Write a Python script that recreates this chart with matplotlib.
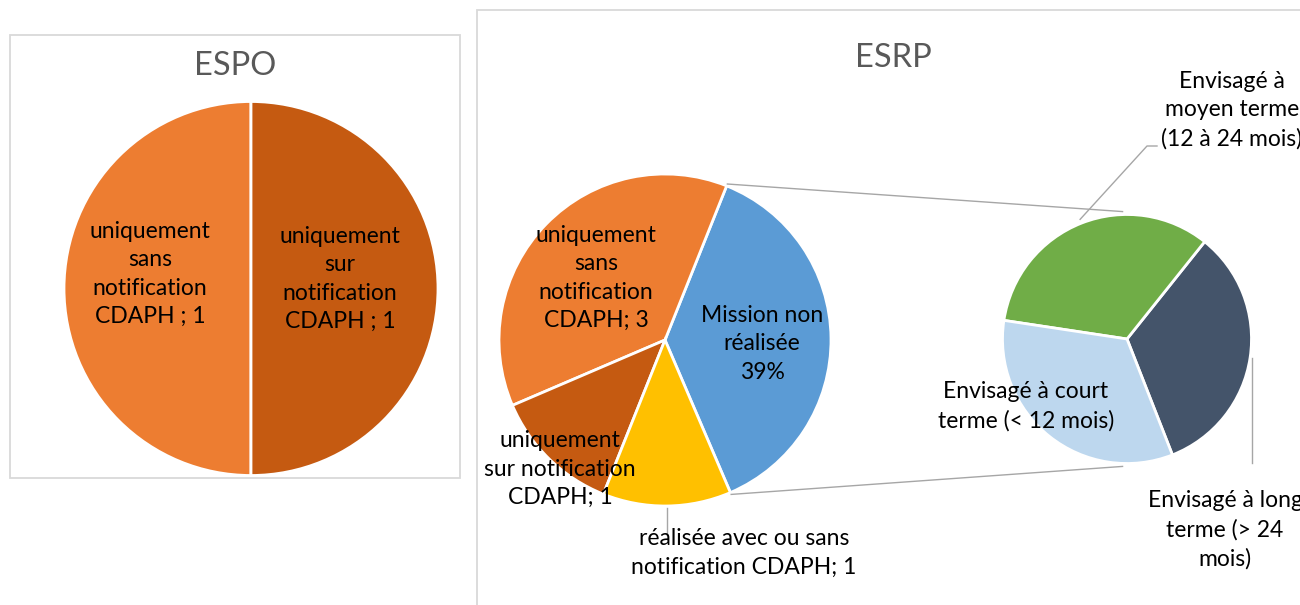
"""Two pie charts: ESPO and ESRP (pie of pie)"""

import numpy as np
import matplotlib.pyplot as plt
from matplotlib.patches import Rectangle

plt.rcParams["font.family"] = ["Lato", "DejaVu Sans"]

# data
espo_labels = ["uniquement\nsans\nnotification\nCDAPH ; 1",
               "uniquement\nsur\nnotification\nCDAPH ; 1"]
espo_values = [1, 1]

# sub-pie: split of "Mission non réalisée"
sub_labels = ["Envisagé à long\nterme (> 24\nmois)",
              "Envisagé à\nmoyen terme\n(12 à 24 mois)",
              "Envisagé à court\nterme (< 12 mois)"]
sub_values = [1, 1, 1]

esrp_labels = ["Mission non\nréalisée\n39%",
               "uniquement\nsans\nnotification\nCDAPH; 3",
               "uniquement\nsur notification\nCDAPH; 1",
               "réalisée avec ou sans\nnotification CDAPH; 1"]
esrp_values = [sum(sub_values), 3, 1, 1]

ORANGE, DARK_ORANGE, YELLOW, BLUE = "#ED7D31", "#C55A11", "#FFC000", "#5B9BD5"
GREEN, SLATE, LIGHT_BLUE = "#70AD47", "#44546A", "#BDD7EE"
GRID = "#D9D9D9"
LINE = "#A6A6A6"

W, H = 1300, 605


def Y(y):
    return H - y


fig = plt.figure(figsize=(W / 100, H / 100), dpi=100)
ax = fig.add_axes([0, 0, 1, 1])

wedge_kw = dict(edgecolor="white", linewidth=2.0)
txt_kw = dict(ha="center", va="center", fontsize=16.5, color="black", linespacing=1.44)

# ESPO panel
ax.add_patch(Rectangle((10, Y(478)), 450, 443, fill=False, edgecolor=GRID, linewidth=1.3))
ax.text(235, Y(66), "ESPO", ha="center", va="center", fontsize=23.5, color="#595959")
ax.pie(espo_values, colors=[ORANGE, DARK_ORANGE], startangle=90, counterclock=True,
       center=(251, Y(288.5)), radius=187, wedgeprops=wedge_kw)
ax.text(150, Y(274), espo_labels[0], **txt_kw)
ax.text(340, Y(279), espo_labels[1], **txt_kw)

# ESRP panel
ax.add_patch(Rectangle((477, Y(700)), 900, 690, fill=False, edgecolor=GRID, linewidth=1.3))
ax.text(893, Y(58), "ESRP", ha="center", va="center", fontsize=23.5, color="#595959")

main_c, main_r = (665, Y(340)), 166
main_w, _ = ax.pie(esrp_values, colors=[BLUE, ORANGE, DARK_ORANGE, YELLOW],
                   startangle=-66.8, counterclock=True, center=main_c, radius=main_r,
                   wedgeprops=wedge_kw)
sub_c, sub_r = (1127, Y(339)), 124.5
sub_w, _ = ax.pie(sub_values, colors=[SLATE, GREEN, LIGHT_BLUE],
                  startangle=-68.6, counterclock=True, center=sub_c, radius=sub_r,
                  wedgeprops=wedge_kw)


def on_circle(c, r, ang):
    a = np.deg2rad(ang)
    return c[0] + r * np.cos(a), c[1] + r * np.sin(a)


# connector lines between blue wedge and sub pie
blue = main_w[0]
for ang_main, ang_sub in [(blue.theta2, 92), (blue.theta1, 268)]:
    p0 = on_circle(main_c, main_r + 2, ang_main)
    p1 = on_circle(sub_c, sub_r + 3, ang_sub)
    ax.plot([p0[0], p1[0]], [p0[1], p1[1]], color=LINE, linewidth=1.0)


def mid(w):
    return (w.theta1 + w.theta2) / 2


# leader lines
p = on_circle(sub_c, sub_r + 4, mid(sub_w[1]))
ax.plot([p[0], 1147, 1157], [p[1], Y(146), Y(146)], color=LINE, linewidth=1.0)
p = on_circle(sub_c, sub_r + 2, mid(sub_w[0]))
ax.plot([1252, 1252], [p[1], Y(463)], color=LINE, linewidth=1.0)
p = on_circle(main_c, main_r + 2, mid(main_w[3]))
ax.plot([p[0], p[0]], [p[1], Y(535)], color=LINE, linewidth=1.0)

# labels
ax.text(762, Y(344), esrp_labels[0], **txt_kw)
ax.text(596, Y(278), esrp_labels[1], **txt_kw)
ax.text(560, Y(469), esrp_labels[2], **txt_kw)
ax.text(744, Y(553), esrp_labels[3], **txt_kw)
ax.text(1225, Y(530), sub_labels[0], **txt_kw)
ax.text(1232, Y(110), sub_labels[1], **txt_kw)
ax.text(1026, Y(406), sub_labels[2], **txt_kw)

ax.set_xlim(0, W)
ax.set_ylim(0, H)
ax.set_aspect("auto")
ax.axis("off")

fig.savefig("out.png", dpi=100)
